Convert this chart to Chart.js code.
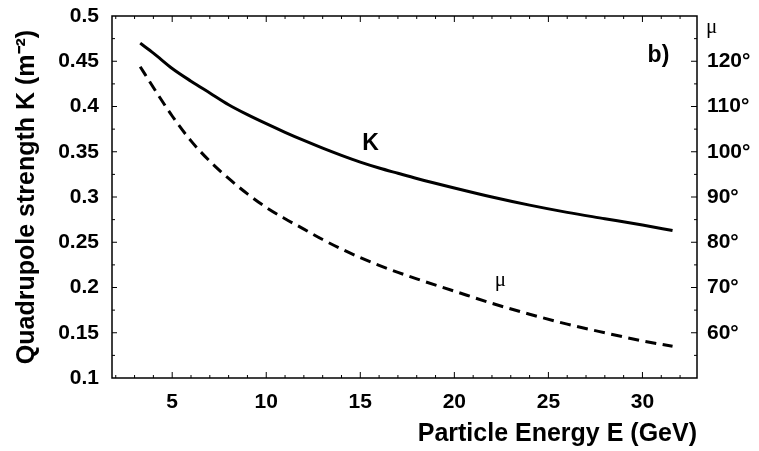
<!DOCTYPE html>
<html>
<head>
<meta charset="utf-8">
<title>Quadrupole strength and phase advance vs energy</title>
<script src="https://cdn.jsdelivr.net/npm/chart.js"></script>
<style>
    html, body { margin: 0; padding: 0; background: #fff; }
    #wrap { width: 759px; height: 451px; }
</style>
</head>
<body>
<div id="wrap"><canvas id="chart" width="759" height="451"></canvas></div>
<script>
// Particle energy in GeV
const energy = [3.3, 4, 5, 6, 7, 8, 9, 10, 11, 12, 13, 14, 15, 16, 17, 18, 20, 22, 24, 26, 28, 30, 31.6];
// Quadrupole strength K in m^-2
const kStrength = [0.470, 0.459, 0.442, 0.428, 0.415, 0.402, 0.391, 0.381, 0.3715, 0.3625, 0.354, 0.346, 0.3385,
    0.332, 0.3262, 0.3205, 0.310, 0.300, 0.291, 0.283, 0.276, 0.269, 0.263];
// Phase advance per cell in degrees
const phaseAdvance = [118.8, 114.2, 107.9, 102.4, 97.9, 94.1, 90.7, 87.7, 85.2, 82.9, 80.6, 78.5, 76.6,
    74.9, 73.35, 71.9, 69.2, 66.5, 64.1, 61.9, 60.0, 58.2, 57.0];

const energyTicks = [5, 10, 15, 20, 25, 30];
const kTicks = [0.1, 0.15, 0.2, 0.25, 0.3, 0.35, 0.4, 0.45, 0.5];
const muTicks = [60, 70, 80, 90, 100, 110, 120];

const FONT = "'Liberation Sans', Arial, Helvetica, sans-serif";
const SERIF = "'Liberation Serif', 'Times New Roman', serif";

const toPoints = (xs, ys) => xs.map((x, i) => ({ x, y: ys[i] }));
const setTicks = values => axis => { axis.ticks = values.map(value => ({ value })); };
// fixed axis box sizes, no extra room for half labels at the ends
const fixSize = (w, h) => s => {
    if (w) s.width = w;
    if (h) s.height = h;
    s.paddingTop = s.paddingBottom = s.paddingLeft = s.paddingRight = 0;
};

// frame, inward tick marks and the in-plot labels
const framePlugin = {
    id: "frame",
    afterDraw(chart) {
        const { ctx, chartArea: a, scales } = chart;
        const { x, y, y1 } = scales;
        ctx.save();
        ctx.strokeStyle = "#000";
        ctx.lineWidth = 1.5;
        ctx.strokeRect(a.left, a.top, a.right - a.left, a.bottom - a.top);

        ctx.lineWidth = 1;
        ctx.beginPath();
        for (let e = 2; e <= 32; e++) {
            const px = x.getPixelForValue(e);
            const len = e % 5 === 0 ? 6 : 3;
            ctx.moveTo(px, a.bottom); ctx.lineTo(px, a.bottom - len);
            ctx.moveTo(px, a.top); ctx.lineTo(px, a.top + len);
        }
        for (let k = 0.125; k < 0.5; k += 0.025) {
            const py = y.getPixelForValue(k);
            const len = Math.round(k * 1000) % 50 === 0 ? 5 : 3;
            ctx.moveTo(a.left, py); ctx.lineTo(a.left + len, py);
        }
        for (let m = 55; m < 130; m += 5) {
            const py = y1.getPixelForValue(m);
            const len = m % 10 === 0 ? 6 : 3;
            ctx.moveTo(a.right, py); ctx.lineTo(a.right - len, py);
        }
        ctx.stroke();

        ctx.fillStyle = "#000";
        ctx.textAlign = "center";
        ctx.textBaseline = "middle";
        ctx.font = "bold 23px " + FONT;
        ctx.fillText("K", x.getPixelForValue(15.55), y.getPixelForValue(0.359));
        ctx.fillText("b)", x.getPixelForValue(30.85), y.getPixelForValue(0.456));
        ctx.font = "21px " + SERIF;
        ctx.fillText("\u03bc", x.getPixelForValue(22.45), y1.getPixelForValue(71.5));
        ctx.textAlign = "left";
        ctx.fillText("\u03bc", a.right + 9, a.top + 11);
        ctx.restore();
    }
};

new Chart(document.getElementById("chart"), {
    type: "line",
    data: {
        datasets: [{
            label: "K",
            data: toPoints(energy, kStrength),
            yAxisID: "y",
            borderColor: "#000",
            borderWidth: 3,
            pointRadius: 0,
            cubicInterpolationMode: "monotone",
            fill: false
        }, {
            label: "\u03bc",
            data: toPoints(energy, phaseAdvance),
            yAxisID: "y1",
            borderColor: "#000",
            borderWidth: 3,
            borderDash: [11, 6.5],
            pointRadius: 0,
            cubicInterpolationMode: "monotone",
            fill: false
        }]
    },
    options: {
        responsive: false,
        animation: false,
        layout: { padding: { top: 16, left: 0, right: 0, bottom: 0 } },
        plugins: {
            legend: { display: false },
            tooltip: { enabled: false }
        },
        scales: {
            x: {
                type: "linear",
                min: 1.8,
                max: 32.9,
                afterBuildTicks: setTicks(energyTicks),
                afterFit: fixSize(0, 73),
                grid: { display: false, drawTicks: false },
                border: { display: false },
                ticks: {
                    padding: 12,
                    color: "#000",
                    font: { family: FONT, size: 21, weight: "bold" }
                },
                title: {
                    display: true,
                    text: "Particle Energy E (GeV)",
                    align: "end",
                    color: "#000",
                    padding: { top: 0, bottom: 2 },
                    font: { family: FONT, size: 25, weight: "bold" }
                }
            },
            y: {
                position: "left",
                min: 0.1,
                max: 0.5,
                afterBuildTicks: setTicks(kTicks),
                afterFit: fixSize(112, 0),
                grid: { display: false, drawTicks: false },
                border: { display: false },
                ticks: {
                    padding: 13,
                    color: "#000",
                    font: { family: FONT, size: 21, weight: "bold" },
                    callback: v => String(+v.toFixed(2))
                },
                title: {
                    display: true,
                    text: "Quadrupole strength K (m\u207b\u00b2)",
                    color: "#000",
                    padding: { top: 12, bottom: 0 },
                    font: { family: FONT, size: 25, weight: "bold" }
                }
            },
            y1: {
                position: "right",
                min: 50,
                max: 130,
                afterBuildTicks: setTicks(muTicks),
                afterFit: fixSize(62, 0),
                grid: { display: false, drawTicks: false },
                border: { display: false },
                ticks: {
                    padding: 10,
                    color: "#000",
                    font: { family: FONT, size: 21, weight: "bold" },
                    callback: v => v + "\u00b0"
                }
            }
        }
    },
    plugins: [framePlugin]
});
</script>
</body>
</html>
